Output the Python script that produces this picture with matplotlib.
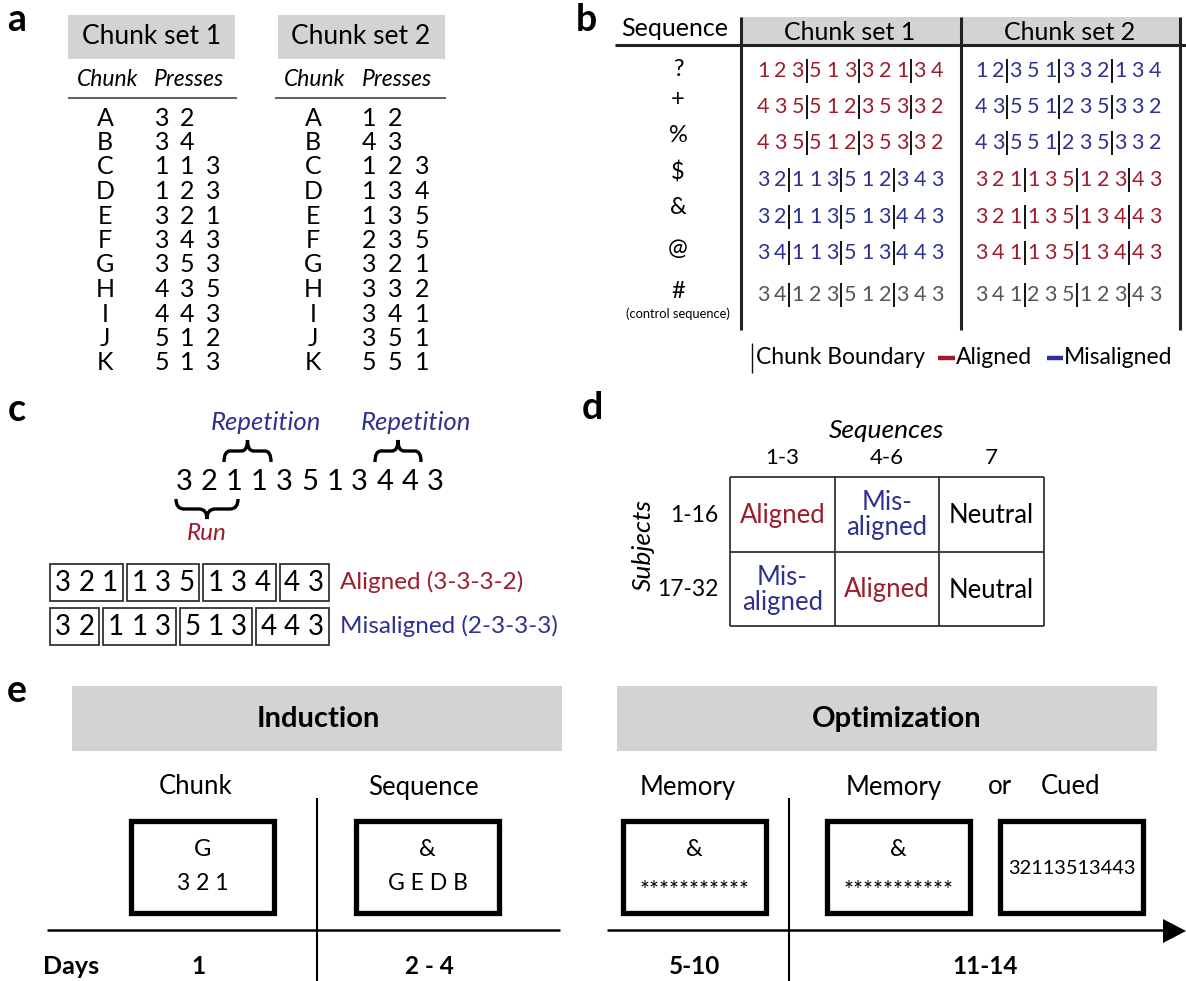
import matplotlib
matplotlib.use('Agg')
import matplotlib.pyplot as plt
from matplotlib.patches import Rectangle, Polygon, PathPatch
from matplotlib.path import Path

plt.rcParams['font.family'] = ['Lato', 'DejaVu Sans']

RED = '#9e1c2c'
BLUE = '#2e3190'
LGRAY = '#d3d3d3'
CTRL = '#555555'

# ---------------- data ----------------
chunk_letters = list('ABCDEFGHIJK')
chunk_set1 = ['32', '34', '113', '123', '321', '343', '353', '435', '443', '512', '513']
chunk_set2 = ['12', '43', '123', '134', '135', '235', '321', '332', '341', '351', '551']

seq_symbols = ['?', '+', '%', '$', '&', '@', '#']
seq_set1 = [
    [[1, 2, 3], [5, 1, 3], [3, 2, 1], [3, 4]],
    [[4, 3, 5], [5, 1, 2], [3, 5, 3], [3, 2]],
    [[4, 3, 5], [5, 1, 2], [3, 5, 3], [3, 2]],
    [[3, 2], [1, 1, 3], [5, 1, 2], [3, 4, 3]],
    [[3, 2], [1, 1, 3], [5, 1, 3], [4, 4, 3]],
    [[3, 4], [1, 1, 3], [5, 1, 3], [4, 4, 3]],
    [[3, 4], [1, 2, 3], [5, 1, 2], [3, 4, 3]],
]
seq_set1_kind = ['aligned', 'aligned', 'aligned', 'misaligned', 'misaligned', 'misaligned', 'control']
seq_set2 = [
    [[1, 2], [3, 5, 1], [3, 3, 2], [1, 3, 4]],
    [[4, 3], [5, 5, 1], [2, 3, 5], [3, 3, 2]],
    [[4, 3], [5, 5, 1], [2, 3, 5], [3, 3, 2]],
    [[3, 2, 1], [1, 3, 5], [1, 2, 3], [4, 3]],
    [[3, 2, 1], [1, 3, 5], [1, 3, 4], [4, 3]],
    [[3, 4, 1], [1, 3, 5], [1, 3, 4], [4, 3]],
    [[3, 4, 1], [2, 3, 5], [1, 2, 3], [4, 3]],
]
seq_set2_kind = ['misaligned', 'misaligned', 'misaligned', 'aligned', 'aligned', 'aligned', 'control']
kind_color = {'aligned': RED, 'misaligned': BLUE, 'control': CTRL}

example_seq = [3, 2, 1, 1, 3, 5, 1, 3, 4, 4, 3]
aligned_chunks = [[3, 2, 1], [1, 3, 5], [1, 3, 4], [4, 3]]
misaligned_chunks = [[3, 2], [1, 1, 3], [5, 1, 3], [4, 4, 3]]

seq_groups = ['1-3', '4-6', '7']
subject_groups = ['1-16', '17-32']
design = [['Aligned', 'Mis-\naligned', 'Neutral'],
          ['Mis-\naligned', 'Aligned', 'Neutral']]
design_color = {'Aligned': RED, 'Mis-\naligned': BLUE, 'Neutral': 'black'}

phases = ['Induction', 'Optimization']
session_titles = ['Chunk', 'Sequence', 'Memory', 'Memory', 'Cued']
session_top = ['G', '&', '&', '&', '']
session_bottom = ['3 2 1', 'G E D B', '***********', '***********', '32113513443']
day_labels = ['1', '2 - 4', '5-10', '11-14']

# ---------------- figure ----------------
fig = plt.figure(figsize=(11.86, 9.81), dpi=100)
ax = fig.add_axes([0, 0, 1, 1])
ax.set_xlim(0, 1186)
ax.set_ylim(981, 0)
ax.axis('off')


def T(x, y, s, size, color='black', weight='normal', style='normal', ha='center', va='center', **kw):
    ax.text(x, y, s, fontsize=size, color=color, fontweight=weight, fontstyle=style,
            ha=ha, va=va, **kw)


def line(xs, ys, lw=1.0, color='black', **kw):
    ax.plot(xs, ys, color=color, lw=lw, solid_capstyle='butt', **kw)


def brace(x0, x1, yb, ym, yt, lw=2.4):
    xm = (x0 + x1) / 2
    r = (x1 - x0) * 0.13
    verts = [(x0, yb), (x0, ym), (x0 + r, ym), (xm - r, ym), (xm, ym), (xm, yt),
             (xm, ym), (xm + r, ym), (x1 - r, ym), (x1, ym), (x1, yb)]
    codes = [Path.MOVETO, Path.CURVE3, Path.CURVE3, Path.LINETO, Path.CURVE3, Path.CURVE3,
             Path.CURVE3, Path.CURVE3, Path.LINETO, Path.CURVE3, Path.CURVE3]
    ax.add_patch(PathPatch(Path(verts, codes), fill=False, lw=lw, ec='black', capstyle='butt'))


LBL = 27  # panel letter size

# ---------------- panel a ----------------
T(17, 20, 'a', LBL, weight='bold')
a_layout = [
    dict(box=68, hdr=152, ck=108, pr=189, lx=(68, 237), let=105, dig=[162, 187, 213]),
    dict(box=278, hdr=361, ck=315, pr=397, lx=(275, 446), let=313, dig=[369, 395, 422]),
]
for k, (lay, chunks) in enumerate(zip(a_layout, [chunk_set1, chunk_set2])):
    ax.add_patch(Rectangle((lay['box'], 15), 167, 44, fc=LGRAY, ec='none'))
    T(lay['hdr'], 37, f'Chunk set {k + 1}', 19)
    T(lay['ck'], 80, 'Chunk', 16.5, style='italic')
    T(lay['pr'], 80, 'Presses', 16.5, style='italic')
    line(lay['lx'], [98, 98], lw=1.3, color='#555555')
    for i, (L, presses) in enumerate(zip(chunk_letters, chunks)):
        y = 118 + i * 24.5
        T(lay['let'], y, L, 18)
        for j, d in enumerate(presses):
            T(lay['dig'][j], y, d, 18)

# ---------------- panel b ----------------
T(586, 20, 'b', LBL, weight='bold')
T(675, 29, 'Sequence', 18)
ax.add_patch(Rectangle((741, 17), 439, 28, fc=LGRAY, ec='none'))
T(850, 32, 'Chunk set 1', 18)
T(1070, 32, 'Chunk set 2', 18)
line([615, 1186], [45, 45], lw=2.2, color='#222222')
for vx in [741, 961, 1180]:
    line([vx, vx], [17, 330], lw=2.2, color='#222222')

row_y = [71, 107, 143, 180, 217, 253, 295]
sym_y = [70, 99, 135, 172, 207, 249, 292]
step = 17.4
for sets, kinds, x0 in [(seq_set1, seq_set1_kind, 763), (seq_set2, seq_set2_kind, 981)]:
    for r, (groups, kind) in enumerate(zip(sets, kinds)):
        y = row_y[r]
        idx = 0
        col = kind_color[kind]
        for g, grp in enumerate(groups):
            for d in grp:
                T(x0 + idx * step, y, str(d), 15.5, color=col)
                idx += 1
            if g < len(groups) - 1:
                bx = x0 + (idx - 0.5) * step
                line([bx, bx], [y - 12, y + 12], lw=1.4, color='#111111')
for s, y in zip(seq_symbols, sym_y):
    T(678, y, s, 17)
T(678, 314, '(control sequence)', 9.3)

# legend
line([752, 752], [343, 373], lw=1.0, color='#111111')
T(756, 358, 'Chunk Boundary', 16.5, ha='left')
line([938, 955], [358, 358], lw=3.2, color=RED)
T(956, 358, 'Aligned', 16.5, ha='left')
line([1047, 1063], [358, 358], lw=3.2, color=BLUE)
T(1064, 358, 'Misaligned', 16.5, ha='left')

# ---------------- panel c ----------------
T(17, 410, 'c', LBL, weight='bold')
T(266, 423, 'Repetition', 18.5, color=BLUE, style='italic')
T(416, 423, 'Repetition', 18.5, color=BLUE, style='italic')
for i, d in enumerate(example_seq):
    T(184 + i * 25.1, 482, str(d), 21)
brace(224, 271, 462, 451, 440)
brace(375, 421, 462, 451, 440)
brace(176, 238, 499, 509, 519)
T(207, 534, 'Run', 17.5, color=RED, style='italic')

slot = 23.5
for chunks, y0, label, col in [(aligned_chunks, 564, 'Aligned (3-3-3-2)', RED),
                              (misaligned_chunks, 608, 'Misaligned (2-3-3-3)', BLUE)]:
    x = 50
    for grp in chunks:
        w = len(grp) * slot + 2
        ax.add_patch(Rectangle((x, y0), w, 37, fill=False, ec='#333333', lw=1.3))
        for j, d in enumerate(grp):
            T(x + 1 + (j + 0.5) * slot, y0 + 19, str(d), 20)
        x += w + 4
    T(340, y0 + 18, label, 17.5, color=col, ha='left')

# ---------------- panel d ----------------
T(592, 408, 'd', LBL, weight='bold')
T(886, 430, 'Sequences', 19, style='italic')
col_x = [730, 835, 939, 1044]
row_edges = [477, 552, 626]
for j, g in enumerate(seq_groups):
    T((col_x[j] + col_x[j + 1]) / 2, 458, g, 16)
for x in col_x:
    line([x, x], [row_edges[0], row_edges[-1]], lw=1.3, color='#333333')
for y in row_edges:
    line([col_x[0], col_x[-1]], [y, y], lw=1.3, color='#333333')
T(643, 545, 'Subjects', 19, style='italic', rotation=90)
for i, g in enumerate(subject_groups):
    yc = (row_edges[i] + row_edges[i + 1]) / 2
    T(718, yc + 1, g, 16.5, ha='right')
    for j in range(3):
        xc = (col_x[j] + col_x[j + 1]) / 2
        s = design[i][j]
        T(xc, yc + 1, s, 18.5, color=design_color[s], linespacing=1.0)

# ---------------- panel e ----------------
T(17, 691, 'e', LBL, weight='bold')
ax.add_patch(Rectangle((72, 686), 490, 65, fc=LGRAY, ec='none'))
ax.add_patch(Rectangle((617, 686), 540, 65, fc=LGRAY, ec='none'))
T(318, 719, phases[0], 21, weight='bold')
T(897, 719, phases[1], 21, weight='bold')

title_x = [196, 423, 688, 894, 1071]
box_x = [131, 356, 623, 827, 1000]
box_w = 143
for i in range(5):
    T(title_x[i], 787, session_titles[i], 18.5)
    ax.add_patch(Rectangle((box_x[i], 821), box_w, 92, fill=False, ec='black', lw=3.8))
    cx = box_x[i] + box_w / 2
    if session_top[i]:
        T(cx, 850, session_top[i], 17)
        if session_bottom[i].startswith('*'):
            T(cx, 891, session_bottom[i], 17)
        else:
            T(cx, 883, session_bottom[i], 16.5)
    else:
        T(cx, 869, session_bottom[i], 14.4)
T(1000, 787, 'or', 18.5)

# time axis
line([47, 560], [930, 930], lw=1.8)
line([607, 1165], [930, 930], lw=1.8)
ax.add_patch(Polygon([[1163, 919], [1186, 931], [1163, 943]], closed=True, fc='black', ec='none'))
for vx in [317, 789]:
    line([vx, vx], [798, 981], lw=1.5)
T(71, 966, 'Days', 18, weight='bold')
for x, d in zip([198, 429, 695, 985], day_labels):
    T(x, 966, d, 17.5, weight='bold')

fig.savefig('out.png', dpi=100)
